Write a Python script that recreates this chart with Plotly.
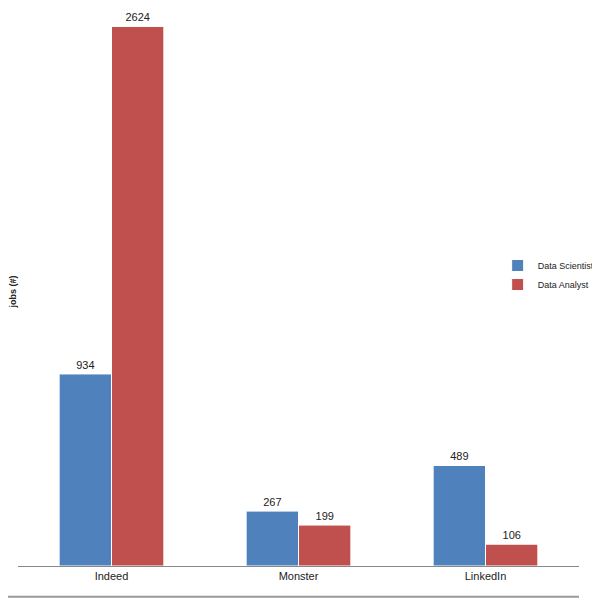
import plotly.graph_objects as go

categories = ["Indeed", "Monster", "LinkedIn"]
scientist = [934, 267, 489]
analyst = [2624, 199, 106]

fig = go.Figure()
fig.add_bar(x=categories, y=scientist, name="Data Scientist", marker=dict(color="#4F81BD", line=dict(color="white", width=1)),
            text=scientist, textposition="outside", textfont=dict(size=11, color="#222"), cliponaxis=False)
fig.add_bar(x=categories, y=analyst, name="Data Analyst", marker=dict(color="#C0504D", line=dict(color="white", width=1)),
            text=analyst, textposition="outside", textfont=dict(size=11, color="#222"), cliponaxis=False)
fig.update_layout(
    width=592, height=592, barmode="group", bargap=0.44, bargroupgap=0.0,
    margin=dict(l=10, r=0, t=9, b=34),
    plot_bgcolor="white", paper_bgcolor="white",
    font=dict(family="Liberation Sans", size=11, color="#222"),
    legend=dict(x=0.855, y=0.53, xanchor="left", yanchor="middle", font=dict(size=9),
                itemwidth=30, bgcolor="rgba(0,0,0,0)", tracegroupgap=4),
    xaxis=dict(showline=True, linecolor="#888", linewidth=1, ticks="", tickfont=dict(size=11)),
    yaxis=dict(range=[0, 2670], showgrid=False, showticklabels=False, zeroline=False,
               title=dict(text="<b>jobs (#)</b>", font=dict(size=9), standoff=0)),
    shapes=[dict(type="line", xref="paper", yref="paper", x0=-0.02, x1=1.0, y0=-0.056, y1=-0.056, line=dict(color="#999", width=2))],
)
fig.write_html("out.html")
